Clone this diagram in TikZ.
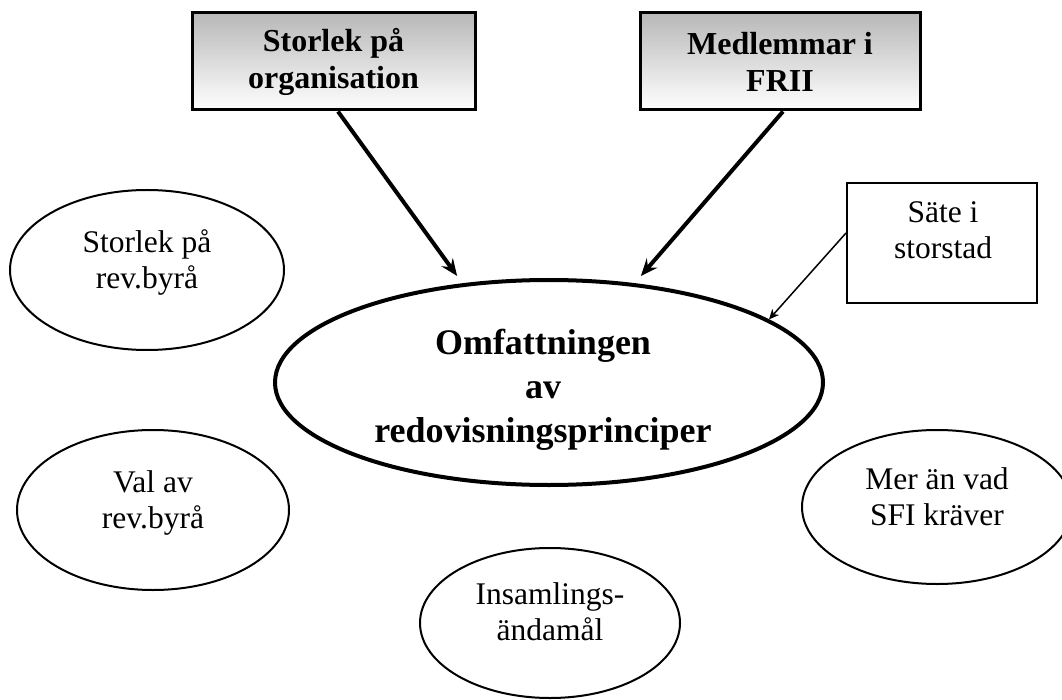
\documentclass[tikz,border=0pt]{standalone}
\usepackage{fontspec}
\setmainfont{Liberation Serif}
\usetikzlibrary{positioning,arrows.meta,shapes.geometric}
\tikzset{
  ruta/.style={draw=black,line width=3pt,align=center,font=\fontsize{32}{37}\selectfont\bfseries,
    top color=black!28,bottom color=white,inner sep=0pt},
  oval/.style={draw=black,ellipse,line width=2pt,inner sep=0pt},
  etikett/.style={align=center,font=\fontsize{31.5}{36}\selectfont,inner sep=0pt},
  pil/.style={-{Stealth[length=17pt,width=14pt,inset=6pt]},line width=4pt},
  pilsmal/.style={-{Stealth[length=10pt,width=9pt,inset=3pt]},line width=1.5pt},
}
\begin{document}
\begin{tikzpicture}[x=1pt,y=-1pt,
  huvud/.style={oval,line width=4pt,minimum width=548pt,minimum height=205pt},
  liten/.style={oval,minimum width=272pt,minimum height=158pt}]
  \useasboundingbox (0,0) rectangle (1062,700);
  % faktorer overst
  \node[ruta,minimum width=283pt,minimum height=97pt] (org) at (333.5,61.5) {Storlek på\\organisation};
  \node[ruta,minimum width=280pt,minimum height=97pt] (frii) at (780,61.5) {Medlemmar i\\FRII};
  \node[draw=black,line width=2pt,minimum width=190pt,minimum height=120pt] (sate) at (942,243) {};
  \node[etikett] (satetxt) at (943,230) {Säte i\\storstad};
  % huvudellipsen
  \node[huvud] (omf) at (549,382.5) {};
  \node[align=center,inner sep=0pt,font=\fontsize{36}{44}\selectfont\bfseries] (omftxt) at (543,389.5)
    {Omfattningen\\av\\redovisningsprinciper};
  % ovriga faktorer
  \node[liten,minimum width=274pt,minimum height=160pt] (srev) at (147,270) {};
  \node[etikett] (srevtxt) at (147,262.5) {Storlek på\\rev.byrå};
  \node[liten,minimum height=160pt] (val) at (153,510) {};
  \node[etikett] (valtxt) at (153,503) {Val av\\rev.byrå};
  \node[liten,minimum width=260pt,minimum height=150pt] (ins) at (550,623) {};
  \node[etikett] (instxt) at (550,612) {Insamlings-\\ändamål};
  \node[liten,minimum width=270pt,minimum height=154pt] (sfi) at (937,507) {};
  \node[etikett] (sfitxt) at (937,497) {Mer än vad\\SFI kräver};
  % pilar
  \draw[pil] ([xshift=4.5pt]org.south) -- ([yshift=8pt]omf.133);
  \draw[pil] ([xshift=3pt]frii.south) -- ([yshift=8pt]omf.47);
  \draw[pilsmal] ([yshift=10pt]sate.west) -- (omf.16);
\end{tikzpicture}
\end{document}
